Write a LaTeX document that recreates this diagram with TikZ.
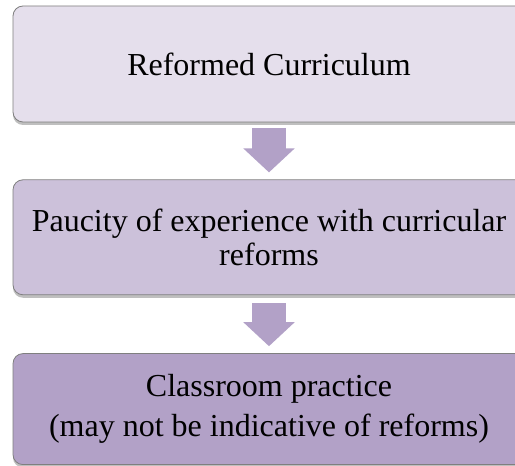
\documentclass[tikz,border=0pt]{standalone}
\usepackage{fontspec}
\setmainfont{Liberation Serif}
\usetikzlibrary{shapes, arrows.meta, positioning, shadows, calc}
\definecolor{lilac1}{RGB}{229,223,236}
\definecolor{lilac2}{RGB}{204,193,218}
\definecolor{lilac3}{RGB}{178,161,199}
\definecolor{edgegray}{RGB}{127,127,127}
\tikzstyle{block} = [draw=edgegray, line width=0.8pt, rectangle, rounded corners=10pt, minimum width=512pt, align=center, drop shadow={shadow xshift=0pt, shadow yshift=-3pt, opacity=0.25, fill=black}]
\tikzstyle{flow} = [draw=lilac3, line width=34pt, -{Triangle[length=24pt, width=50pt]}]

\begin{document}
\begin{tikzpicture}[x=1pt, y=1pt, node distance=57pt]
  \clip (0,0) rectangle (515,466);
  \fill[white] (0,0) rectangle (515,466);
  \node [block, fill=lilac1, minimum height=116pt, font=\fontsize{32}{38}\selectfont] (curric) at (269,402) {Reformed Curriculum};
  \node [block, fill=lilac2, minimum height=115pt, font=\fontsize{32}{34}\selectfont, below=of curric] (paucity) {Paucity of experience with curricular\\reforms};
  \node [block, fill=lilac3, minimum height=111pt, font=\fontsize{32}{40}\selectfont, below=58pt of paucity] (practice) {Classroom practice\\(may not be indicative of reforms)};

  \draw [flow] ($(curric.south)+(0,-6)$) -- ($(paucity.north)+(0,7)$);
  \draw [flow] ($(paucity.south)+(0,-8)$) -- ($(practice.north)+(0,7)$);
\end{tikzpicture}
\end{document}
